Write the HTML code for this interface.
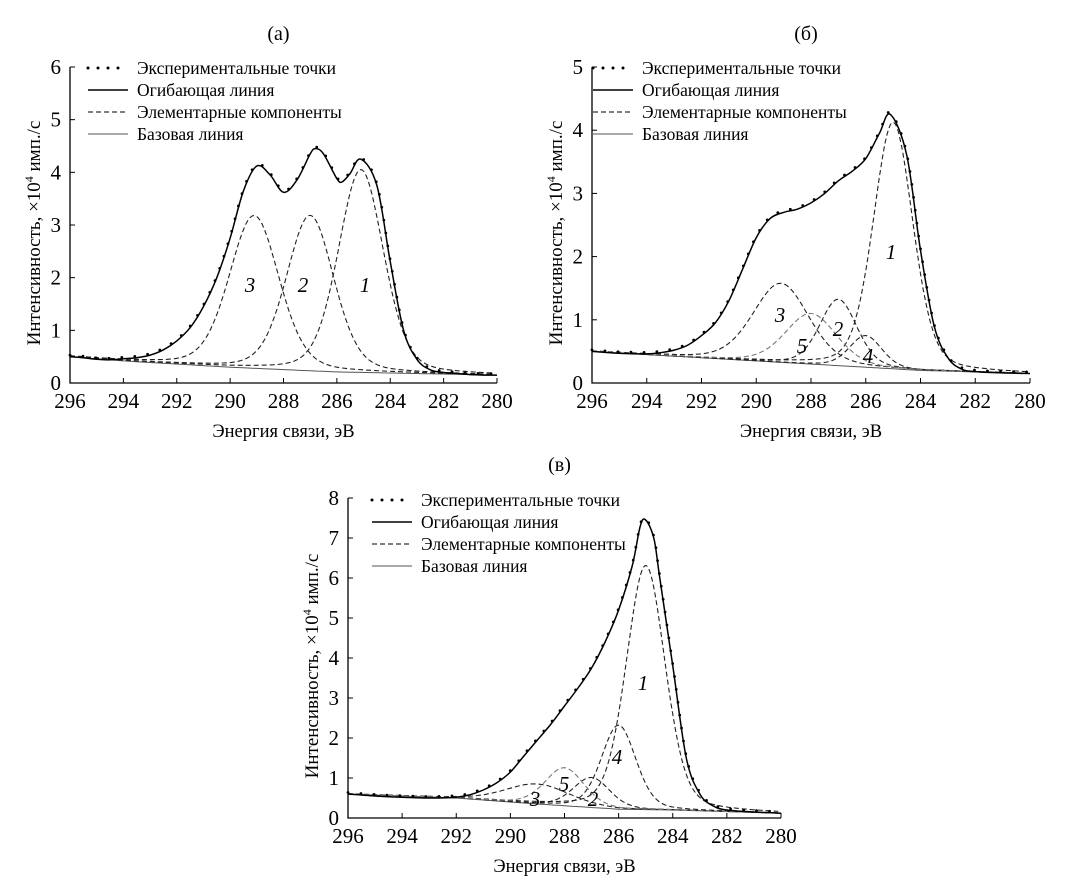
<!DOCTYPE html>
<html><head><meta charset="utf-8"><style>
html,body{margin:0;padding:0;background:#fff}
svg{display:block;font-family:"Liberation Serif",serif}
</style></head><body>
<svg id="fig" width="1072" height="894" viewBox="0 0 1072 894" xmlns="http://www.w3.org/2000/svg"></svg>
<script>
const xTicks = [296,294,292,290,288,286,284,282,280];
// Panel (a)
const aEnvX = [296,295.5,295,294.5,294,293.5,293,292.5,292,291.5,291,290.5,290,289.5,289,288.5,288,287.5,287,286.8,286.5,286,285.8,285.5,285.1,284.5,284,283.5,283,282.5,282,281.5,281,280.5,280];
const aEnvY = [0.5,0.48,0.45,0.44,0.46,0.48,0.53,0.63,0.8,1.05,1.45,2.0,2.75,3.65,4.12,3.95,3.62,3.85,4.35,4.45,4.35,3.88,3.82,3.98,4.25,3.75,2.3,1.0,0.45,0.25,0.2,0.18,0.16,0.15,0.15];
const aBaseX = [296,294,290,286,282,280];
const aBaseY = [0.5,0.42,0.3,0.21,0.17,0.15];
const aCompCenter = [285.1,287.0,289.1];
const aCompAmp = [3.85,2.95,2.9];
const aCompFwhm = [2.0,2.1,2.2];
const aYTicks = [0,1,2,3,4,5,6];
// Panel (b)
const bEnvX = [296,295,294,293.5,293,292.5,292,291.5,291,290.5,290,289.5,289,288.5,288,287.5,287,286.5,286,285.5,285.1,284.5,284,283.5,283,282.5,282,281,280];
const bEnvY = [0.5,0.47,0.46,0.48,0.52,0.6,0.75,0.95,1.3,1.8,2.3,2.6,2.7,2.75,2.85,3.0,3.2,3.35,3.55,3.95,4.25,3.6,2.1,0.9,0.4,0.22,0.18,0.16,0.15];
const bBaseX = [296,292,288,284,280];
const bBaseY = [0.5,0.4,0.3,0.2,0.15];
const bCompCenter = [285.0,287.0,289.1,286.0,288.0];
const bCompAmp = [3.9,1.05,1.25,0.5,0.8];
const bCompFwhm = [1.7,1.6,2.4,1.4,2.2];
const bYTicks = [0,1,2,3,4,5];
// Panel (c)
const cEnvX = [296,295,294,293,292,291.5,291,290.5,290,289.5,289,288.5,288,287.5,287,286.5,286,285.5,285.2,285,284.7,284.5,284,283.5,283,282.5,282,281,280];
const cEnvY = [0.6,0.55,0.52,0.5,0.52,0.58,0.7,0.88,1.15,1.55,1.95,2.35,2.8,3.25,3.75,4.4,5.2,6.3,7.3,7.45,7.0,6.1,3.8,1.5,0.6,0.3,0.2,0.15,0.12];
const cBaseX = [296,292,289,286,284,280];
const cBaseY = [0.6,0.5,0.35,0.22,0.2,0.12];
const cCompCenter = [285.0,287.0,289.0,286.0,288.0];
const cCompAmp = [6.1,0.75,0.5,2.1,0.95];
const cCompFwhm = [1.7,1.6,2.8,1.5,1.7];
const cYTicks = [0,1,2,3,4,5,6,7,8];

const NS='http://www.w3.org/2000/svg';
const svg=document.getElementById('fig');
function mk(tag,attrs,parent){const e=document.createElementNS(NS,tag);for(const k in attrs)e.setAttribute(k,attrs[k]);(parent||svg).appendChild(e);return e;}
function interp(xs,ys,x){for(let i=0;i<xs.length-1;i++){const a=xs[i],b=xs[i+1];if((x<=a&&x>=b)){const t=(x-a)/(b-a);return ys[i]+t*(ys[i+1]-ys[i]);}}return ys[ys.length-1];}
function smoothPath(pts){let d='M'+pts[0][0].toFixed(1)+','+pts[0][1].toFixed(1);for(let i=0;i<pts.length-1;i++){const p0=pts[i-1]||pts[i],p1=pts[i],p2=pts[i+1],p3=pts[i+2]||p2;const c1=[p1[0]+(p2[0]-p0[0])/6,p1[1]+(p2[1]-p0[1])/6],c2=[p2[0]-(p3[0]-p1[0])/6,p2[1]-(p3[1]-p1[1])/6];d+='C'+c1[0].toFixed(1)+','+c1[1].toFixed(1)+' '+c2[0].toFixed(1)+','+c2[1].toFixed(1)+' '+p2[0].toFixed(1)+','+p2[1].toFixed(1);}return d;}
function voigt(v,c,a,w){const s=w/2.3548,hw=w/2;const G=Math.exp(-((v-c)*(v-c))/(2*s*s));const L=1/(1+((v-c)/hw)*((v-c)/hw));return a*(0.75*G+0.25*L);}

function panel(cfg){
  const g=mk('g',{});
  
  
  const X=v=>cfg.x0+(296-v)/16*(cfg.x1-cfg.x0);
  const Y=v=>cfg.y0-v/cfg.ymax*(cfg.y0-cfg.y1);
  const t=mk('text',{x:(cfg.x0+cfg.x1)/2-5,y:cfg.y1-27,'font-size':20,'text-anchor':'middle'},g);t.textContent=cfg.title;
  
  const ax=mk('path',{d:`M${cfg.x0},${cfg.y1}V${cfg.y0}H${cfg.x1}`,stroke:'#000','stroke-width':1.3,fill:'none'},g);
  
  xTicks.forEach(v=>{mk('line',{x1:X(v),x2:X(v),y1:cfg.y0,y2:cfg.y0-5,stroke:'#000'},g);
    const l=mk('text',{x:X(v),y:cfg.y0+25,'font-size':21,'text-anchor':'middle'},g);l.textContent=v;
    });
  cfg.yTicks.forEach(v=>{mk('line',{x1:cfg.x0,x2:cfg.x0+5,y1:Y(v),y2:Y(v),stroke:'#000'},g);
    const l=mk('text',{x:cfg.x0-9,y:Y(v)+7,'font-size':21,'text-anchor':'end'},g);l.textContent=v;
    });
  const xt=mk('text',{x:(cfg.x0+cfg.x1)/2,y:cfg.y0+54,'font-size':18.5,'text-anchor':'middle'},g);xt.textContent='Энергия связи, эВ';
  
  const yc=(cfg.y0+cfg.y1)/2+8;
  const yt=mk('text',{x:cfg.x0-30,y:yc,'font-size':19,'text-anchor':'middle',transform:`rotate(-90 ${cfg.x0-30} ${yc})`},g);
  yt.innerHTML='Интенсивность, ×10<tspan dy="-7" font-size="12">4</tspan><tspan dy="7"> имп./с</tspan>';
  
  const bp=[];for(let v=296;v>=280;v-=0.25)bp.push([X(v),Y(interp(cfg.baseX,cfg.baseY,v))]);
  const bl=mk('path',{d:smoothPath(bp),stroke:'#555','stroke-width':1,fill:'none'},g);
  
  cfg.cc.forEach((c,i)=>{const pts=[];
    for(let v=296;v>=280;v-=0.1){const base=interp(cfg.baseX,cfg.baseY,v);pts.push([X(v),Y(base+voigt(v,c,cfg.ca[i],cfg.cw[i]))]);}
    const p=mk('path',{d:smoothPath(pts),stroke:cfg.grey&&cfg.grey.includes(i)?'#777':'#222','stroke-width':1.1,'stroke-dasharray':'5,3',fill:'none'},g);
    });
  const ep=cfg.envX.map((v,i)=>[X(v),Y(cfg.envY[i])]);
  const env=mk('path',{d:smoothPath(ep),stroke:'#000','stroke-width':1.5,fill:'none'},g);
  
  const dots=mk('path',{d:smoothPath(ep),stroke:'#000','stroke-width':2.8,'stroke-linecap':'round','stroke-dasharray':'0,13',fill:'none',transform:'translate(0,-1.5)'},g);
  
  const labels=['Экспериментальные точки','Огибающая линия','Элементарные компоненты','Базовая линия'];
  labels.forEach((s,i)=>{const y=cfg.ly+i*22;const lg=mk('g',{},g);
    
    const st=[{'stroke-width':3,'stroke-linecap':'round','stroke-dasharray':'0,10'},{'stroke-width':1.5},{'stroke-width':1.1,'stroke-dasharray':'5,3'},{'stroke-width':1,stroke:'#555'}][i];
    mk('line',Object.assign({x1:cfg.lx,x2:cfg.lx+40,y1:y,y2:y,stroke:'#000'},st),lg);
    const tx=mk('text',{x:cfg.lx+49,y:y+6,'font-size':17.5},lg);tx.textContent=s;});
  cfg.nums.forEach(n=>{const tx=mk('text',{x:n[1],y:n[2],'font-size':21,'font-style':'italic','text-anchor':'middle'},g);tx.textContent=n[0];
    });
}
panel({name:'panel-a',title:'(а)',x0:70,x1:497,y0:383,y1:67,ymax:6,yTicks:aYTicks,envX:aEnvX,envY:aEnvY,baseX:aBaseX,baseY:aBaseY,cc:aCompCenter,ca:aCompAmp,cw:aCompFwhm,lx:88,ly:68,
  nums:[['3',250,292],['2',303,292],['1',365,292]]});
panel({name:'panel-b',title:'(б)',x0:592,x1:1030,y0:383,y1:67,ymax:5,yTicks:bYTicks,envX:bEnvX,envY:bEnvY,baseX:bBaseX,baseY:bBaseY,cc:bCompCenter,ca:bCompAmp,cw:bCompFwhm,grey:[4],lx:593,ly:68,
  nums:[['1',891,259],['3',780,322],['2',838,336],['5',802,353],['4',868,363]]});
panel({name:'panel-c',title:'(в)',x0:348,x1:781,y0:818,y1:498,ymax:8,yTicks:cYTicks,envX:cEnvX,envY:cEnvY,baseX:cBaseX,baseY:cBaseY,cc:cCompCenter,ca:cCompAmp,cw:cCompFwhm,grey:[4],lx:372,ly:500,
  nums:[['1',643,690],['4',617,764],['5',564,791],['3',535,806],['2',593,806]]});
</script>
</body></html>
